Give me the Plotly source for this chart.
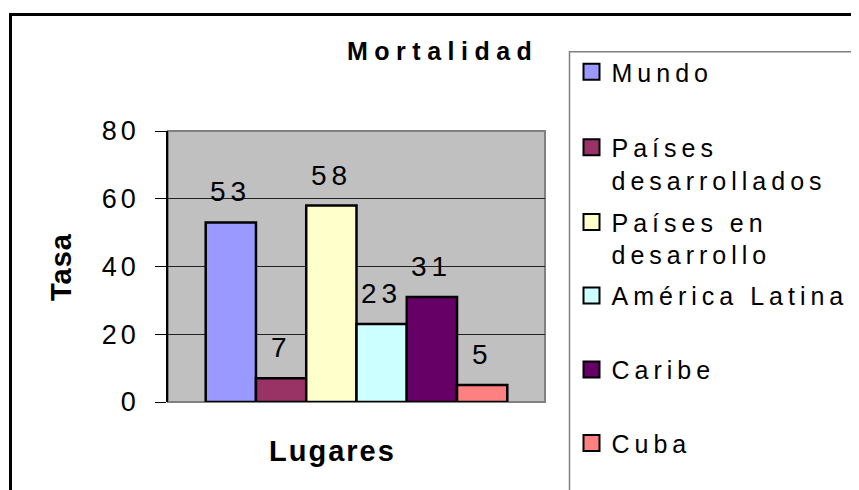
import plotly.graph_objects as go

# ---- data ----
categories = ["Mundo", "Países desarrollados", "Países en desarrollo",
              "América Latina", "Caribe", "Cuba"]
legend_lines = [["Mundo"], ["Países", "desarrollados"], ["Países en", "desarrollo"],
                ["América Latina"], ["Caribe"], ["Cuba"]]
values = [53, 7, 58, 23, 31, 5]
colors = ["#9999FF", "#993366", "#FFFFCC", "#CCFFFF", "#660066", "#FF8080"]
y_ticks = [0, 20, 40, 60, 80]
y_tick_labels = ["0", "20", "40", "60", "80"]
title_text = "Mortalidad"
x_title = "Lugares"
y_title = "Tasa"

# ---- layout geometry (pixels, in screenshot coordinates) ----
FW, FH = 859, 490
OFF = 8  # page body margin
L, R, T, B = 168, 545, 131, 402
W, H = R - L, B - T


def px_x(p):
    return (p - L) / W


def px_y(p):
    return (B - p) / H


def spaced(s, sp):
    return "<br>".join(f"<span style='letter-spacing:{sp}px'>{ln}</span>" for ln in s)


FONT = "Liberation Sans, Arial, sans-serif"

fig = go.Figure()

n = len(categories)
group = 0.8
bw = group / n
for i, (cat, v, c) in enumerate(zip(categories, values, colors)):
    fig.add_trace(go.Bar(
        x=[0], y=[v], name=cat, width=bw, offset=-group / 2 + i * bw,
        marker=dict(color=c, line=dict(color="black", width=2.5)),
        showlegend=False, legendgroup=cat, hoverinfo="name+y",
    ))

# legend entries (one legend per item so they can be spaced like the original)
legend_first_line_centers = [73, 148.5, 223.3, 296.7, 370.8, 444.2]
for i, (cat, c) in enumerate(zip(categories, colors)):
    lname = "legend" if i == 0 else f"legend{i+1}"
    fig.add_trace(go.Scatter(
        x=[None], y=[None], mode="markers", name=spaced(legend_lines[i], 5),
        marker=dict(symbol="square", size=16, color=c, line=dict(color="black", width=2)),
        legend=lname, legendgroup=cat, showlegend=True,
    ))

legend_layouts = {}
for i in range(n):
    key = "legend" if i == 0 else f"legend{i+1}"
    legend_layouts[key] = dict(
        x=px_x(571.5), y=px_y(legend_first_line_centers[i] - 24),
        xanchor="left", yanchor="top", bgcolor="rgba(0,0,0,0)", borderwidth=0,
        valign="top", font=dict(family=FONT, size=25, color="black"),
    )

annotations = []
# data labels
for i, v in enumerate(values):
    annotations.append(dict(
        x=-group / 2 + (i + 0.5) * bw, y=v, xref="x", yref="y",
        text=f"<span style='letter-spacing:5px'>{v}</span>", showarrow=False,
        xanchor="center", yanchor="bottom", yshift=13,
        font=dict(family=FONT, size=28, color="black"),
    ))
# title
annotations.append(dict(
    x=px_x(442), y=px_y(51), xref="paper", yref="paper",
    text=f"<span style='letter-spacing:6.5px'>{title_text}</span>", showarrow=False,
    xanchor="center", yanchor="middle",
    font=dict(family=FONT, size=25, color="black", weight="bold"),
))
# axis titles
annotations.append(dict(
    x=px_x(332), y=px_y(451), xref="paper", yref="paper",
    text=f"<span style='letter-spacing:2px'>{x_title}</span>", showarrow=False,
    xanchor="center", yanchor="middle",
    font=dict(family=FONT, size=29, color="black", weight="bold"),
))
annotations.append(dict(
    x=px_x(60.5), y=px_y(267.5), xref="paper", yref="paper",
    text=f"<span style='letter-spacing:1px'>{y_title}</span>", showarrow=False,
    xanchor="center", yanchor="middle", textangle=-90,
    font=dict(family=FONT, size=29, color="black", weight="bold"),
))

shapes = [
    # legend box
    dict(type="rect", xref="paper", yref="paper", layer="below",
         x0=px_x(569.5), x1=px_x(880), y0=px_y(51.7), y1=px_y(520),
         line=dict(color="#808080", width=1.5), fillcolor="white"),
    # plot area border
    dict(type="rect", xref="paper", yref="paper", layer="between",
         x0=0, x1=1, y0=0, y1=1, line=dict(color="#808080", width=2)),
    # outer chart border
    dict(type="rect", xref="paper", yref="paper", layer="above",
         x0=px_x(10.5), x1=px_x(880), y0=px_y(14.5), y1=px_y(520),
         line=dict(color="black", width=3)),
]

fig.update_layout(
    width=FW, height=FH,
    margin=dict(l=L - OFF, r=FW - (R - OFF), t=T - OFF, b=FH - (B - OFF), autoexpand=False),
    paper_bgcolor="white", plot_bgcolor="#C0C0C0",
    font=dict(family=FONT, color="black"),
    xaxis=dict(range=[-0.5, 0.5], showticklabels=False, ticks="", showgrid=False,
               zeroline=False, showline=False, fixedrange=True),
    yaxis=dict(range=[0, 80], tickvals=y_ticks,
               ticktext=[f"<span style='letter-spacing:4px'>{t}</span>" for t in y_tick_labels],
               ticks="outside", ticklen=11, tickcolor="black", tickwidth=1,
               ticklabelstandoff=10,
               tickfont=dict(family=FONT, size=27, color="black"),
               showgrid=True, gridcolor="#222222", gridwidth=1,
               showline=True, linecolor="black", linewidth=1.5, zeroline=False,
               fixedrange=True),
    annotations=annotations, shapes=shapes,
    showlegend=True,
    **legend_layouts,
)

fig.write_html("out.html")
